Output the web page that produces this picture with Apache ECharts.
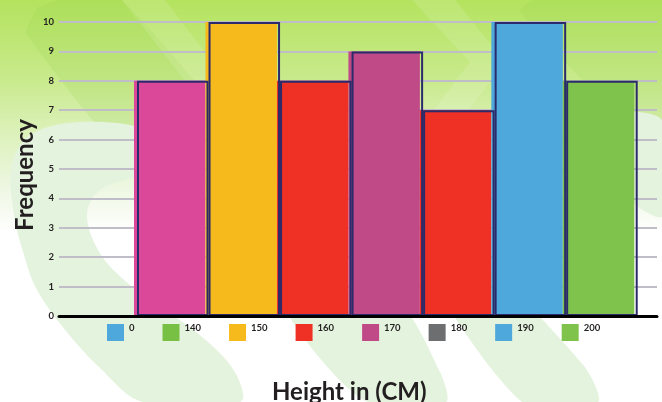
<!DOCTYPE html>
<html>
<head>
<meta charset="utf-8">
<script src="https://cdn.jsdelivr.net/npm/echarts@6/dist/echarts.min.js"></script>
<style>
html,body{margin:0;padding:0;background:#fff;}
#chart{width:662px;height:402px;}
</style>
</head>
<body>
<div id="chart"></div>
<script>
// ---- data ----
const binLabels = ['140', '150', '160', '170', '180', '190', '200'];
const frequencies = [8, 10, 8, 9, 7, 10, 8];
const legendLabels = ['0', '140', '150', '160', '170', '180', '190', '200'];
const yMin = 0, yMax = 10, yStep = 1;
const xTitle = 'Height in (CM)';
const yTitle = 'Frequency';

// ---- styles ----
const barColors = ['#DC4899', '#F6BA1C', '#EE3124', '#C04A87', '#EE3124', '#4EA8DC', '#80C34C'];
const legendColors = ['#4EA8DC', '#78C043', '#F6BA1C', '#EE3124', '#C04A87', '#6D6E70', '#4EA8DC', '#80C34C'];
const FONT = 'Lato, "Open Sans", "DejaVu Sans", sans-serif';
const TEXT = '#231F20';
const BORDER = '#2B2A6A';

const chart = echarts.init(document.getElementById('chart'), null, {renderer: 'canvas'});

const bg = [
  {type: 'rect', shape: {x: 0, y: 0, width: 662, height: 402},
   style: {fill: new echarts.graphic.LinearGradient(0, 0, 0, 1, [
     {offset: 0, color: '#B4E35E'},
     {offset: 0.2, color: '#C9EA8D'},
     {offset: 0.33, color: '#DCF1BA'},
     {offset: 0.47, color: '#EEF7E3'},
     {offset: 0.58, color: '#FFFFFF'},
     {offset: 1, color: '#FFFFFF'}])}},
  // darker diagonal band top-left
  {type: 'polygon', shape: {smooth: 0.2, points: [[27, 35], [38, 8], [60, 0], [122, 0], [320, 250], [210, 250]]},
   style: {fill: 'rgba(140,205,70,0.16)'}},
  // lighter stripe
  {type: 'polygon', shape: {points: [[122, 0], [165, 0], [345, 235], [305, 235]]},
   style: {fill: 'rgba(255,255,255,0.12)'}},
  // chevron light stripe right
  {type: 'polygon', shape: {points: [[412, 0], [455, 0], [505, 62], [465, 115], [430, 115], [470, 62]]},
   style: {fill: 'rgba(255,255,255,0.12)'}},
  // darker band top-right
  {type: 'polygon', shape: {smooth: 0.2, points: [[520, 12], [535, 0], [662, 0], [662, 150]]},
   style: {fill: 'rgba(140,205,70,0.14)'}},
  // light green swooshes lower area
  {type: 'polygon', shape: {smooth: 0.35, points: [
     [12, 165], [14, 215], [24, 255], [36, 288], [62, 326], [100, 368], [143, 402],
     [240, 402], [236, 374], [208, 342], [160, 306], [124, 280], [98, 250], [87, 214],
     [100, 190], [140, 176], [200, 160], [150, 130], [80, 122], [30, 135]]},
   style: {fill: '#E4F3DE'}},
  {type: 'polygon', shape: {smooth: 0.25, points: [[285, 300], [395, 300], [440, 372], [446, 402], [368, 402], [318, 356]]},
   style: {fill: '#E4F3DE'}},
  {type: 'polygon', shape: {smooth: 0.25, points: [[425, 262], [480, 262], [584, 366], [598, 402], [522, 402]]},
   style: {fill: '#E4F3DE'}},
  {type: 'polygon', shape: {smooth: 0.3, points: [[590, 120], [662, 120], [662, 216], [646, 212], [632, 200]]},
   style: {fill: '#E4F3DE'}}
].map(e => Object.assign(e, {z: -10, silent: true}));

const option = {
  animation: false,
  backgroundColor: '#ffffff',
  title: {
    text: xTitle, left: 267, top: 375,
    textStyle: {fontFamily: FONT, fontSize: 24, fontWeight: 'bold', color: TEXT}
  },
  legend: {
    data: legendLabels, left: 102, top: 318, icon: 'rect',
    itemWidth: 17, itemHeight: 17, itemGap: 28, selectedMode: false,
    formatter: '{t|{name}}',
    textStyle: {
      fontFamily: FONT, fontSize: 9.5, fontWeight: 'bold', color: TEXT,
      rich: {t: {fontFamily: FONT, fontSize: 9.5, fontWeight: 'bold', color: TEXT, padding: [0, 0, 9, 0]}}
    }
  },
  graphic: bg.concat([{
    type: 'text', x: 25, y: 175, rotation: Math.PI / 2, z: 5,
    style: {text: yTitle, fill: TEXT, fontFamily: FONT, fontSize: 24, fontWeight: 'bold', align: 'center', verticalAlign: 'middle'}
  }]),
  grid: [
    {left: 59, right: 5, top: 22, bottom: 86},
    {left: 134, right: 27.7, top: 22, bottom: 86},
    {left: 137, right: 24.3, top: 22, bottom: 86}
  ],
  xAxis: [
    {gridIndex: 0, type: 'value', min: 0, max: 1, z: 10,
     axisLine: {show: true, onZero: false, lineStyle: {color: '#000', width: 3}},
     axisTick: {show: false}, axisLabel: {show: false}, splitLine: {show: false}},
    {gridIndex: 1, type: 'category', data: binLabels, show: false},
    {gridIndex: 2, type: 'category', data: binLabels, show: false}
  ],
  yAxis: [
    {gridIndex: 0, type: 'value', min: yMin, max: yMax, interval: yStep,
     axisLine: {show: false}, axisTick: {show: false},
     axisLabel: {margin: 5, fontFamily: FONT, fontSize: 9.5, fontWeight: 'bold', color: TEXT},
     splitLine: {show: true, lineStyle: {color: '#BFBDC7', width: 2}}},
    {gridIndex: 1, type: 'value', min: yMin, max: yMax, show: false, splitLine: {show: false}},
    {gridIndex: 2, type: 'value', min: yMin, max: yMax, show: false, splitLine: {show: false}}
  ],
  series: [
    {type: 'bar', name: 'fill', xAxisIndex: 1, yAxisIndex: 1, barCategoryGap: '0%',
     data: frequencies.map((v, i) => ({value: v, itemStyle: {color: barColors[i]}}))},
    {type: 'bar', name: 'outline', xAxisIndex: 2, yAxisIndex: 2, barCategoryGap: '0%', z: 3,
     itemStyle: {color: 'rgba(0,0,0,0)', borderColor: BORDER, borderWidth: 2},
     data: frequencies.slice()}
  ].concat(legendLabels.map((n, i) => ({
    type: 'scatter', name: n, xAxisIndex: 0, yAxisIndex: 0, data: [],
    itemStyle: {color: legendColors[i], opacity: 1}
  })))
};
chart.setOption(option);
</script>
</body>
</html>
